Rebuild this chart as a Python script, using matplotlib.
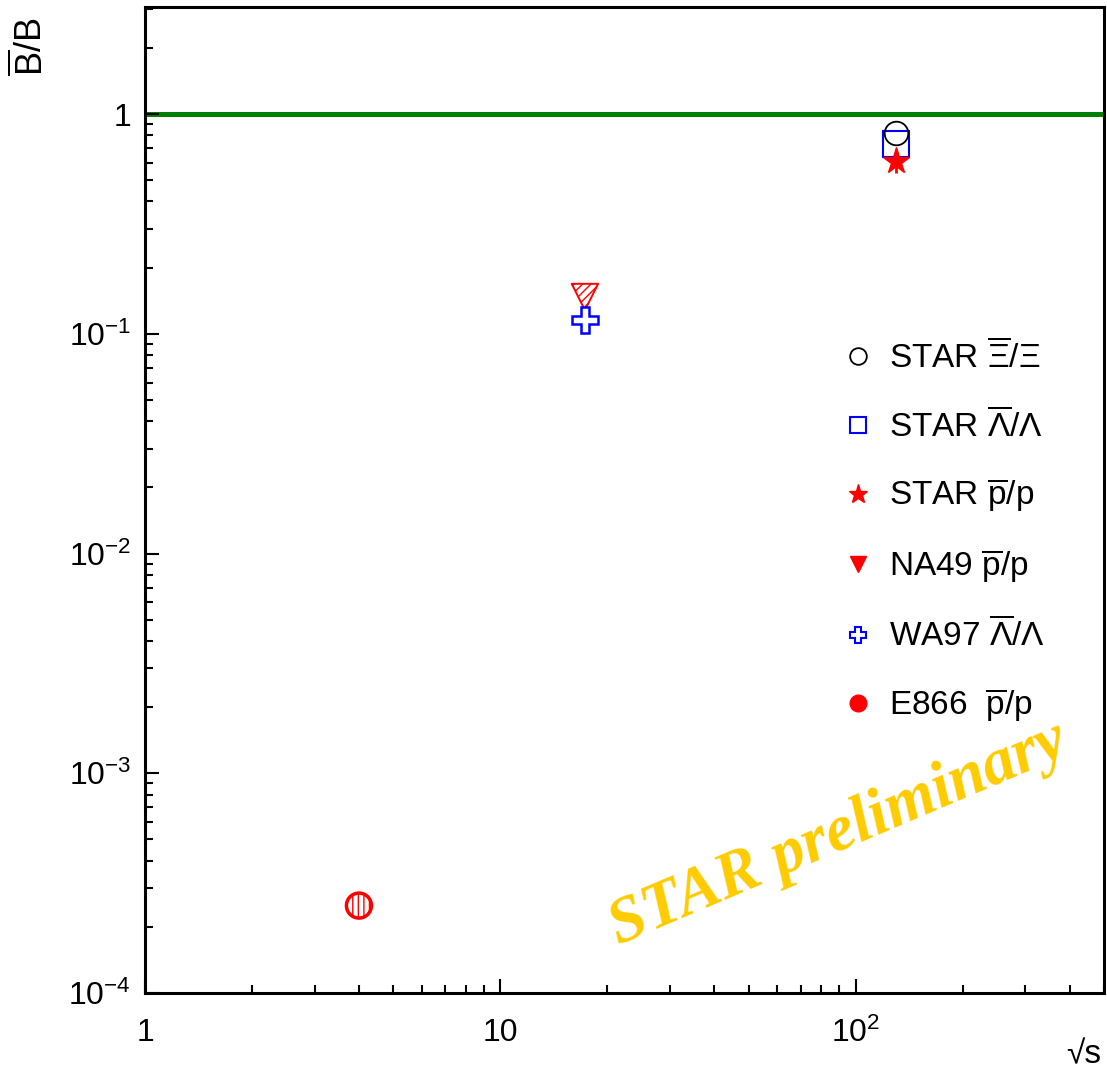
import matplotlib
matplotlib.use('Agg')
import matplotlib.pyplot as plt
from matplotlib.lines import Line2D
from matplotlib.ticker import LogLocator, FixedLocator, FixedFormatter, NullFormatter

plt.rcParams['font.family'] = ['Liberation Sans', 'DejaVu Sans']
plt.rcParams['mathtext.fontset'] = 'custom'
plt.rcParams['mathtext.rm'] = 'Liberation Sans'
plt.rcParams['mathtext.it'] = 'Liberation Sans:italic'
plt.rcParams['mathtext.bf'] = 'Liberation Sans:bold'

# sqrt(s) [GeV] vs anti-baryon / baryon ratio
star_xi_x = [130.0]
star_xi_y = [0.82]
star_lam_x = [130.0]
star_lam_y = [0.73]
star_p_x = [130.0]
star_p_y = [0.61]
star_p_err = [0.07]
na49_x = [17.3]
na49_y = [0.147]
wa97_x = [17.3]
wa97_y = [0.115]
e866_x = [4.0]
e866_y = [2.5e-4]

xticks = [1, 10, 100]
xticklabels = ['1', '10', r'$10^{2}$']
yticks = [1e-4, 1e-3, 1e-2, 1e-1, 1]
yticklabels = [r'$10^{-4}$', r'$10^{-3}$', r'$10^{-2}$', r'$10^{-1}$', '1']

labels = [r'STAR $\overline{\mathrm{Ξ}}/\mathrm{Ξ}$',
          r'STAR $\overline{\mathrm{Λ}}/\mathrm{Λ}$',
          r'STAR $\overline{\mathrm{p}}/\mathrm{p}$',
          r'NA49 $\overline{\mathrm{p}}/\mathrm{p}$',
          r'WA97 $\overline{\mathrm{Λ}}/\mathrm{Λ}$',
          r'E866  $\overline{\mathrm{p}}/\mathrm{p}$']

fig = plt.figure(figsize=(11.07, 10.71), dpi=100)
ax = fig.add_axes([0.131, 0.0728, 0.8663, 0.9207])
ax.set_xscale('log')
ax.set_yscale('log')
ax.set_xlim(1, 500)
ax.set_ylim(1e-4, 3.07)

ax.axhline(1.0, color='#008000', lw=3.6, zorder=1)

ax.plot(star_lam_x, star_lam_y, 's', ms=19, mfc='none', mec='blue', mew=1.5, zorder=3)
ax.plot(star_xi_x, star_xi_y, 'o', ms=17, mfc='none', mec='black', mew=1.3, zorder=3)
ax.errorbar(star_p_x, star_p_y, yerr=star_p_err, fmt='*', ms=20, color='red',
            mec='red', mew=1.0, elinewidth=2, capsize=0, zorder=4)
ax.scatter(na49_x, na49_y, marker='v', s=19 ** 2, facecolor='white', edgecolor='red',
           hatch='////', linewidth=1.4, zorder=3)
ax.plot(wa97_x, wa97_y, 'P', ms=19, mfc='white', mec='blue', mew=1.8, zorder=3)
ax.scatter(e866_x, e866_y, marker='o', s=18 ** 2, facecolor='white', edgecolor='red',
           hatch='|||', linewidth=2.5, zorder=3)

for s in ax.spines.values():
    s.set_linewidth(2.2)

ax.xaxis.set_major_locator(FixedLocator(xticks))
ax.xaxis.set_major_formatter(FixedFormatter(xticklabels))
ax.yaxis.set_major_locator(FixedLocator(yticks))
ax.yaxis.set_major_formatter(FixedFormatter(yticklabels))
ax.xaxis.set_minor_locator(LogLocator(base=10, subs=range(2, 10), numticks=20))
ax.yaxis.set_minor_locator(LogLocator(base=10, subs=range(2, 10), numticks=20))
ax.xaxis.set_minor_formatter(NullFormatter())
ax.yaxis.set_minor_formatter(NullFormatter())
ax.tick_params(which='both', direction='in', top=False, right=False, width=1.5)
ax.tick_params(which='major', length=10, labelsize=23)
ax.tick_params(which='minor', length=6)
ax.tick_params(axis='x', which='major', pad=18)
ax.tick_params(axis='y', which='major', pad=10)

handles = [
    Line2D([], [], ls='none', marker='o', ms=12, mfc='none', mec='black', mew=1.3),
    Line2D([], [], ls='none', marker='s', ms=12, mfc='none', mec='blue', mew=1.5),
    Line2D([], [], ls='none', marker='*', ms=14, color='red'),
    Line2D([], [], ls='none', marker='v', ms=12, color='red'),
    Line2D([], [], ls='none', marker='P', ms=12, mfc='white', mec='blue', mew=1.5),
    Line2D([], [], ls='none', marker='o', ms=12, color='red'),
]
ax.legend(handles, labels, loc='upper left', bbox_to_anchor=(0.712, 0.676),
          frameon=False, fontsize=24, handlelength=1.0, handletextpad=0.45,
          labelspacing=1.0, borderaxespad=0)

fig.text(0.028, 0.956, r'$\overline{\mathrm{B}}/\mathrm{B}$', rotation=90,
         ha='center', va='center', fontsize=26)
fig.text(0.979, 0.015, '√s', ha='center', va='center', fontsize=24)
fig.text(0.757, 0.221, 'STAR preliminary', rotation=23, ha='center', va='center',
         fontsize=47, color='#FFCC00', family='Liberation Serif',
         weight='bold', style='italic')

fig.savefig('out.png', dpi=100)
